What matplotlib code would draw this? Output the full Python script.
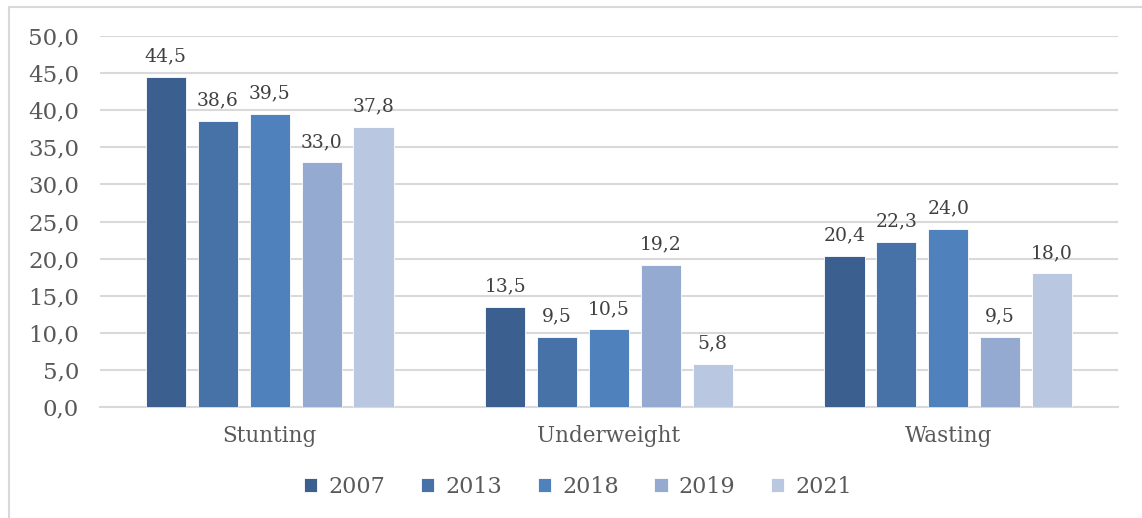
import numpy as np
import matplotlib
matplotlib.use("Agg")
import matplotlib.pyplot as plt
from matplotlib.patches import Rectangle

categories = ["Stunting", "Underweight", "Wasting"]
years = ["2007", "2013", "2018", "2019", "2021"]
v2007 = [44.5, 13.5, 20.4]
v2013 = [38.6, 9.5, 22.3]
v2018 = [39.5, 10.5, 24.0]
v2019 = [33.0, 19.2, 9.5]
v2021 = [37.8, 5.8, 18.0]
colors = ["#3b5f8f", "#4672a8", "#4f81bd", "#95aad1", "#bac7e1"]

plt.rcParams['font.family'] = ['DejaVu Serif']
txt = "#595959"

fig = plt.figure(figsize=(11.42, 5.18), dpi=100)
fig.patches.append(Rectangle((9/1142, -0.1), 1.2, 1 - 7/518 + 0.1, transform=fig.transFigure,
                             fill=False, edgecolor="#d9d9d9", linewidth=1.5))
ax = fig.add_axes([100/1142, 1 - 407/518, 1018/1142, 371/518])

x = np.arange(len(categories))
w = 0.118
step = 0.153
series = [v2007, v2013, v2018, v2019, v2021]
for i, (vals, yr) in enumerate(zip(series, years)):
    pos = x + (i - 2) * step
    bars = ax.bar(pos, vals, w, color=colors[i], edgecolor="white", linewidth=0.6, label=yr, zorder=3)
    for b, v in zip(bars, vals):
        ax.annotate(f"{v:.1f}".replace(".", ","), (b.get_x() + b.get_width()/2, v),
                    xytext=(0, 8), textcoords="offset points", ha="center", va="bottom",
                    fontsize=13.5, color="#404040")

ax.set_xlim(-0.5, 2.5)
ax.set_ylim(0, 50)
ax.set_yticks(np.arange(0, 51, 5))
ax.set_yticklabels([f"{t:.1f}".replace(".", ",") for t in np.arange(0, 51, 5)])
ax.set_xticks(x)
ax.set_xticklabels(categories)
ax.tick_params(axis="y", length=0, labelsize=16.5, labelcolor=txt, pad=15)
ax.tick_params(axis="x", length=0, labelsize=15.5, labelcolor=txt, pad=13)
ax.grid(axis="y", color="#d9d9d9", linewidth=1.5, zorder=0)
for s in ["top", "right", "left"]:
    ax.spines[s].set_visible(False)
ax.spines["bottom"].set_color("#d9d9d9")
ax.spines["bottom"].set_linewidth(1.5)

leg = ax.legend(loc="center", bbox_to_anchor=(478/1018, -0.215), ncol=5, frameon=False,
                fontsize=16, handlelength=0.6, handleheight=0.6, handletextpad=0.5,
                columnspacing=1.6, labelcolor=txt)

fig.savefig("out.png", dpi=100)
